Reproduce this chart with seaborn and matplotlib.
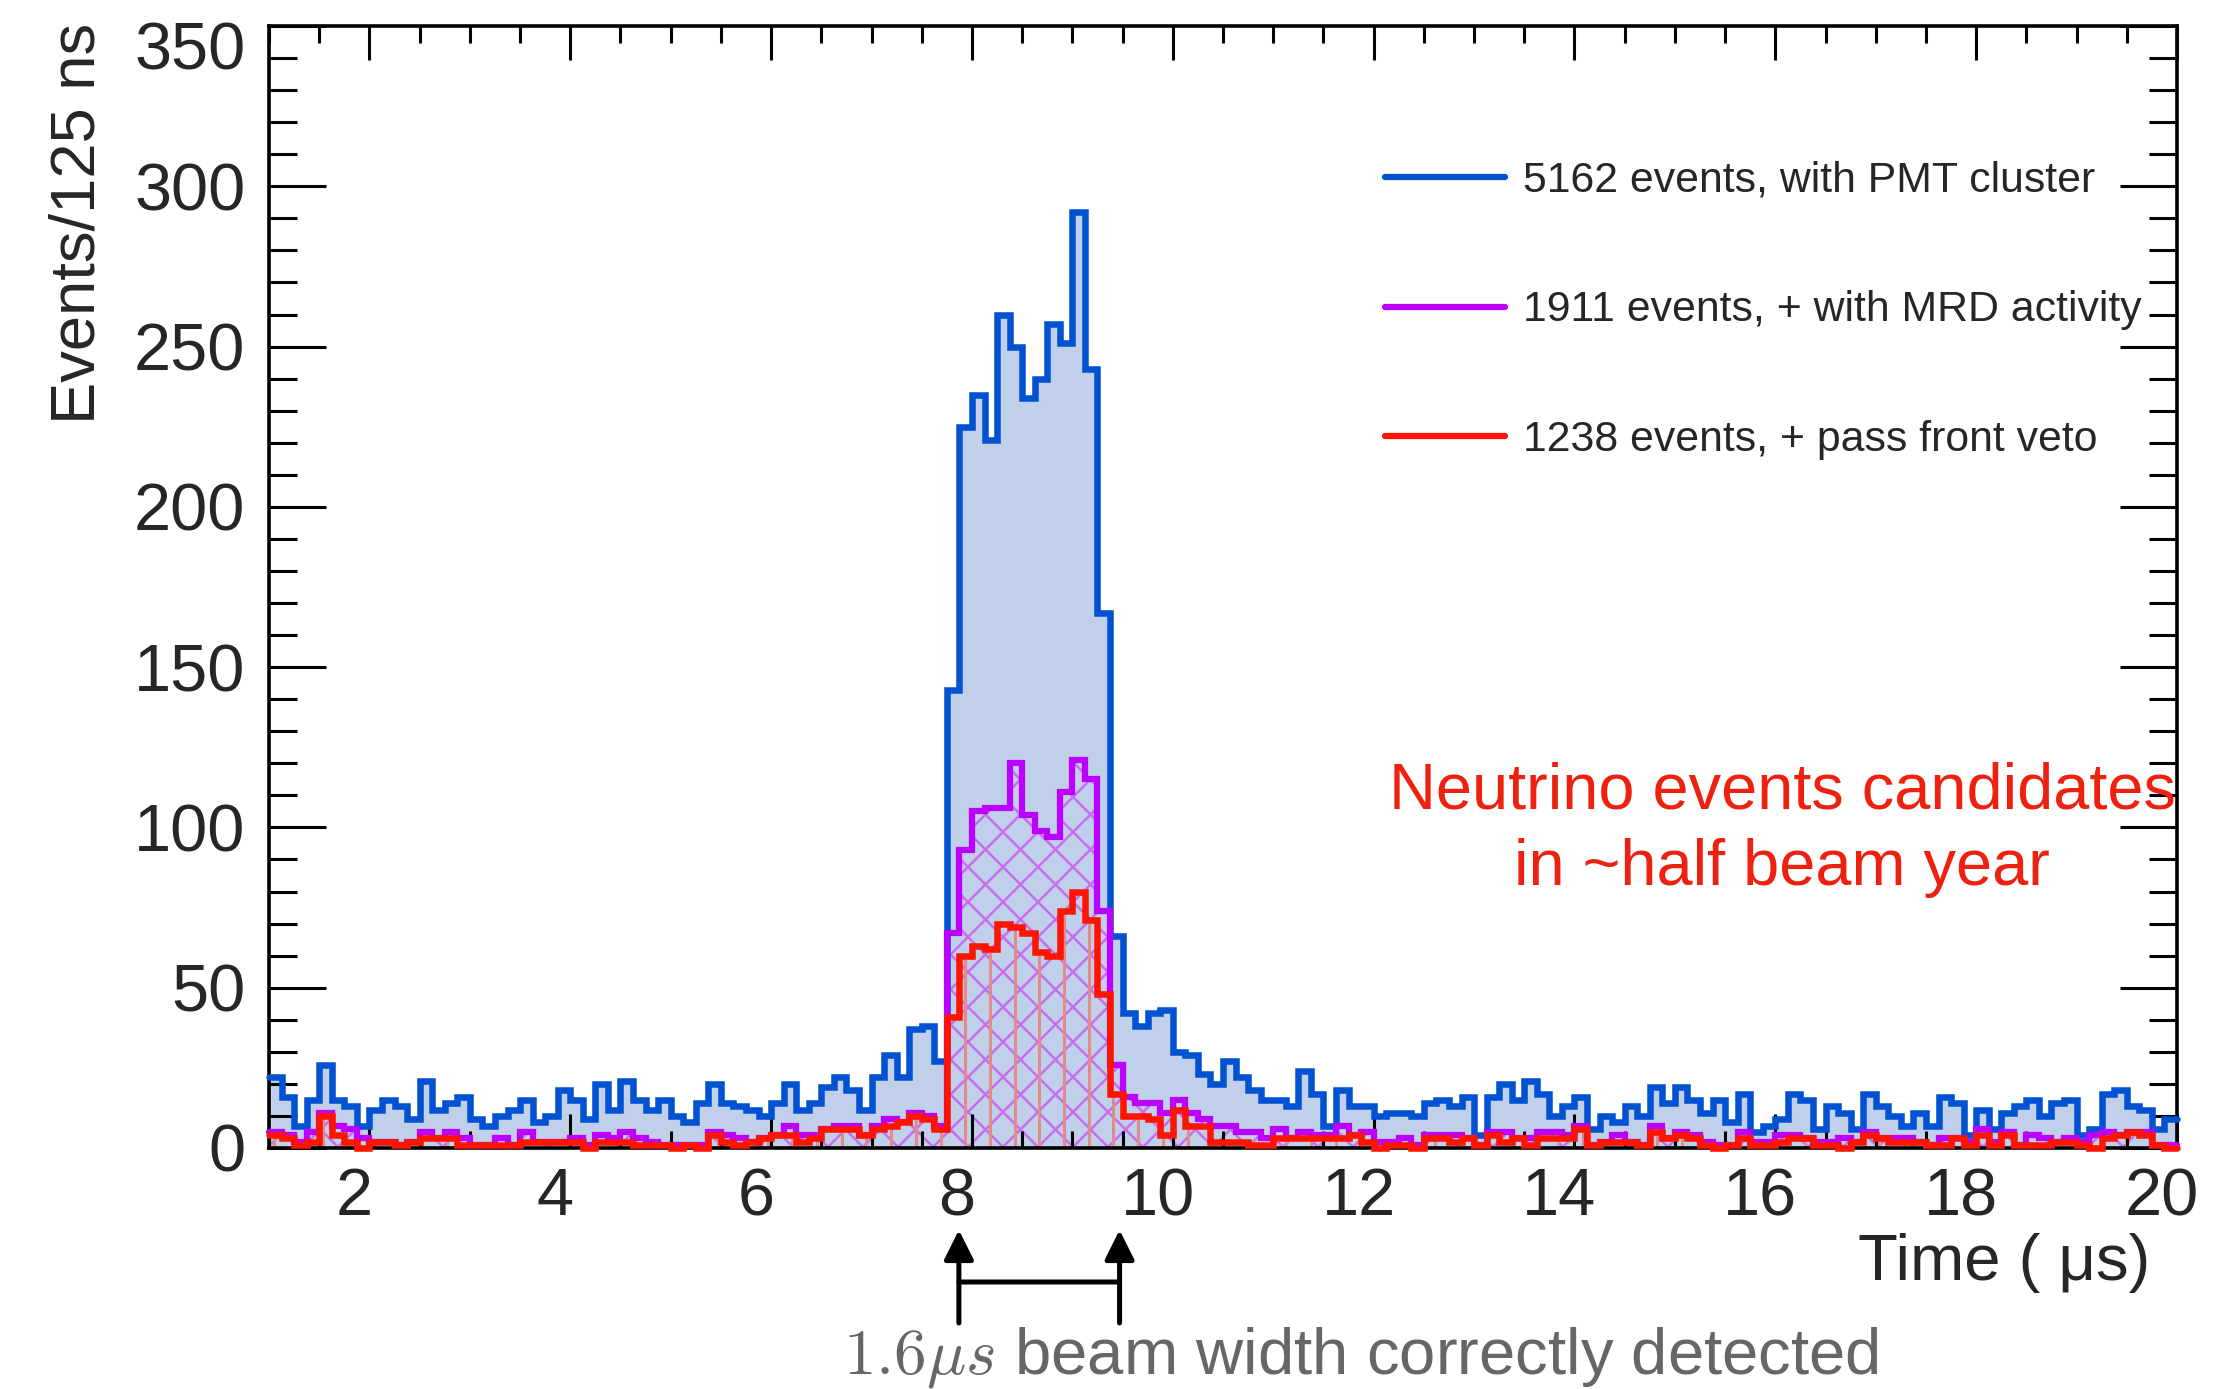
import numpy as np
import matplotlib
matplotlib.use("Agg")
import matplotlib.pyplot as plt
import matplotlib.transforms as mtransforms
from matplotlib.collections import LineCollection
from matplotlib.lines import Line2D
from matplotlib.ticker import MultipleLocator
import seaborn as sns

# Time histogram: 125 ns bins starting at 1 us
T_START = 1.0
BIN_WIDTH = 0.125

pmt_cluster = [
    22, 16, 7, 15, 26, 15, 13, 7, 12, 15, 13, 9, 21, 12, 14, 16, 9, 7, 10, 12,
    15, 8, 10, 18, 15, 9, 20, 12, 21, 15, 12, 15, 10, 8, 14, 20, 14, 13, 12, 10,
    14, 20, 12, 14, 19, 22, 18, 12, 22, 29, 22, 37, 38, 27,
    143, 225, 235, 221, 260, 250, 234, 240, 257, 251, 292, 243, 167,
    66, 42, 38, 42, 43, 30, 29, 23, 20,
    27, 22, 18, 15, 15, 13, 24, 17, 7, 18, 13, 13, 10, 11, 11, 10, 14, 15, 13, 16,
    4, 16, 20, 15, 21, 17, 10, 13, 16, 6, 10, 8, 13, 10, 19, 14, 19, 15, 11, 15,
    8, 17, 5, 7, 9, 17, 15, 6, 13, 11, 6, 17, 13, 10, 7, 11, 7, 16, 14, 4,
    12, 6, 11, 13, 15, 10, 14, 15, 4, 6, 17, 18, 13, 12, 6, 9,
]
mrd_activity = [
    5, 4, 2, 5, 11, 7, 6, 3, 2, 2, 1, 2, 5, 3, 5, 3, 1, 1, 3, 1,
    5, 2, 2, 2, 3, 1, 4, 3, 5, 3, 2, 1, 1, 1, 1, 5, 4, 3, 2, 3,
    4, 7, 4, 4, 6, 7, 7, 4, 7, 9, 8, 11, 10, 7,
    67, 93, 105, 106, 106, 120, 104, 99, 97, 111, 121, 115, 74,
    26, 16, 14, 14, 11, 15, 11, 9, 7,
    7, 5, 5, 3, 6, 3, 5, 4, 4, 7, 4, 5, 2, 2, 3, 1, 4, 4, 4, 3,
    1, 5, 5, 3, 3, 5, 5, 4, 7, 1, 2, 4, 2, 1, 7, 3, 5, 4, 2, 1,
    1, 5, 2, 2, 4, 4, 3, 2, 2, 3, 2, 5, 3, 3, 3, 2, 1, 3, 3, 2,
    6, 2, 5, 1, 4, 3, 2, 3, 2, 4, 5, 4, 5, 5, 1, 1,
]
front_veto = [
    4, 3, 1, 2, 10, 4, 2, 0, 2, 2, 1, 2, 3, 3, 3, 1, 1, 1, 1, 1,
    2, 2, 2, 2, 2, 0, 2, 2, 2, 1, 1, 1, 0, 1, 0, 4, 2, 1, 2, 3,
    4, 4, 2, 3, 6, 6, 6, 4, 6, 7, 8, 10, 9, 6,
    41, 60, 63, 62, 70, 69, 67, 61, 60, 74, 80, 71, 48,
    17, 10, 10, 9, 4, 12, 7, 7, 2,
    2, 2, 1, 1, 3, 3, 3, 3, 3, 3, 4, 2, 0, 1, 1, 0, 3, 3, 2, 3,
    1, 4, 2, 3, 1, 3, 3, 3, 6, 1, 2, 2, 2, 1, 5, 3, 4, 3, 1, 0,
    1, 3, 1, 1, 2, 3, 3, 1, 1, 0, 2, 4, 3, 2, 2, 2, 1, 1, 3, 1,
    4, 1, 4, 1, 1, 1, 2, 2, 1, 0, 3, 4, 5, 4, 1, 0,
]

series_labels = [
    "5162 events, with PMT cluster",
    "1911 events, + with MRD activity",
    "1238 events, + pass front veto",
]
x_tick_values = [2, 4, 6, 8, 10, 12, 14, 16, 18, 20]
y_tick_values = [0, 50, 100, 150, 200, 250, 300, 350]
beam_start = 7.87
beam_width = 1.6

BLUE_LINE = "#0052d2"
BLUE_FILL = "#c1d0ea"
PURPLE = "#bb00ff"
PURPLE_HATCH = "#c86ef0"
RED = "#ff1400"
RED_HATCH = "#e38a8a"

sns.set_style("ticks")
plt.rcParams["font.family"] = ["Liberation Sans", "DejaVu Sans"]
plt.rcParams["mathtext.fontset"] = "cm"

n_bins = len(pmt_cluster)
edges = T_START + BIN_WIDTH * np.arange(n_bins + 1)
centers = edges[:-1] + BIN_WIDTH / 2
bin_list = [float(e) for e in edges]

W, H, DPI = 2234, 1389, 100
fig = plt.figure(figsize=(W / DPI, H / DPI), dpi=DPI)
L, R, T, B = 269, 2177, 26, 1148
ax = fig.add_axes([L / W, 1 - B / H, (R - L) / W, (B - T) / H])


def step_area(values, color):
    n_before = len(ax.collections)
    sns.histplot(x=centers, weights=np.asarray(values, float), bins=bin_list,
                 element="step", fill=True, color=color, alpha=1,
                 edgecolor="none", linewidth=0, ax=ax, legend=False)
    coll = ax.collections[n_before]
    coll.set_zorder(1)
    return coll


def step_outline(values, color, lw):
    n_before = len(ax.lines)
    sns.histplot(x=centers, weights=np.asarray(values, float), bins=bin_list,
                 element="step", fill=False, color=color, linewidth=lw,
                 ax=ax, legend=False)
    line = ax.lines[n_before]
    line.set_clip_on(False)
    line.set_zorder(3)
    line.set_solid_joinstyle("miter")
    return line


# light blue area under the PMT-cluster histogram
step_area(pmt_cluster, BLUE_FILL)

# invisible areas used as clip regions for the hatching
mrd_area = step_area(mrd_activity, "none")
veto_area = step_area(front_veto, "none")

ax.set_xlim(edges[0], edges[-1])
ax.set_ylim(0, 350)
ax.set_axisbelow(False)

px_per_us = ax.bbox.width / (edges[-1] - edges[0])
px_per_count = ax.bbox.height / 350.0
ymax = 350.0

# cross hatching under the MRD histogram (45 degree lines on screen)
slope = px_per_us / px_per_count
rise = ymax / slope
gap = 35.0 / px_per_us
starts = np.arange(edges[0] - rise - gap, edges[-1] + gap, gap)
segs = [[(c, 0), (c + rise, ymax)] for c in starts]
segs += [[(c + rise, 0), (c, ymax)] for c in starts]
cross = LineCollection(segs, colors=PURPLE_HATCH, linewidths=1.8, zorder=1.3)
ax.add_collection(cross, autolim=False)
cross.set_clip_path(mrd_area.get_paths()[0], mrd_area.get_transform())

# vertical hatching under the front-veto histogram
vgap = 24.7 / px_per_us
vx = np.arange(7.933 - 40 * vgap, edges[-1], vgap)
vx = vx[vx > edges[0]]
vsegs = [[(x, 0), (x, ymax)] for x in vx]
vert = LineCollection(vsegs, colors=RED_HATCH, linewidths=2.2, zorder=1.4)
ax.add_collection(vert, autolim=False)
vert.set_clip_path(veto_area.get_paths()[0], veto_area.get_transform())

# histogram outlines
step_outline(pmt_cluster, BLUE_LINE, 4.7)
step_outline(mrd_activity, PURPLE, 4.5)
step_outline(front_veto, RED, 4.7)

# axes frame and ticks
for s in ax.spines.values():
    s.set_linewidth(2.6)
    s.set_color("black")
    s.set_visible(True)

ax.set_xticks(x_tick_values, labels=[str(v) for v in x_tick_values])
ax.xaxis.set_minor_locator(MultipleLocator(0.5))
ax.set_yticks(y_tick_values, labels=[str(v) for v in y_tick_values])
ax.yaxis.set_minor_locator(MultipleLocator(10))
ax.tick_params(axis="both", which="both", direction="in", top=True,
               right=True, width=2.2, color="black")
ax.tick_params(axis="x", which="major", length=24.5, pad=14, labelsize=48)
ax.tick_params(axis="x", which="minor", length=12)
ax.tick_params(axis="y", which="major", length=41, pad=17, labelsize=48)
ax.tick_params(axis="y", which="minor", length=20)

shift_left = mtransforms.ScaledTranslation(-15 / DPI, 0, fig.dpi_scale_trans)
for lab in ax.get_xticklabels():
    lab.set_transform(lab.get_transform() + shift_left)
shift_down = mtransforms.ScaledTranslation(0, -20 / DPI, fig.dpi_scale_trans)
for lab in ax.get_yticklabels():
    if lab.get_text() == "350":
        lab.set_transform(lab.get_transform() + shift_down)

ax.set_xlabel("Time ( μs)", fontsize=47, loc="right", va="baseline")
ax.xaxis.set_label_coords((2150 - L) / (R - L), (B - 1280) / (B - T))
ax.set_ylabel("Events/125 ns", fontsize=45.5, loc="top", va="baseline")
ax.yaxis.set_label_coords((95 - L) / (R - L), 1.003)

# legend
handles = [Line2D([], [], color=c, lw=4.5) for c in (BLUE_LINE, PURPLE, RED)]
ax.legend(handles, series_labels, loc="upper left",
          bbox_to_anchor=(0.585, 0.880), frameon=False, fontsize=30.8,
          handlelength=2.8, handletextpad=0.42, labelspacing=2.1,
          borderpad=0, borderaxespad=0)

# annotation text
fig.text(1782 / W, 1 - 808 / H, "Neutrino events candidates", ha="center",
         va="baseline", fontsize=46.7, color="#ee2010")
fig.text(1782 / W, 1 - 885 / H, "in ~half beam year", ha="center",
         va="baseline", fontsize=46.7, color="#ee2010")

# beam window marker below the axis
beam_end = beam_start + beam_width
for xb in (beam_start, beam_end):
    ax.annotate("", xy=(xb, H - 1230), xytext=(xb, H - 1323),
                xycoords=("data", "figure pixels"),
                textcoords=("data", "figure pixels"),
                arrowprops=dict(arrowstyle="-|>,head_length=0.4,head_width=0.2",
                                lw=3.6, color="black", shrinkA=0, shrinkB=0,
                                mutation_scale=45),
                annotation_clip=False)
ax.annotate("", xy=(beam_start, H - 1282), xytext=(beam_end, H - 1282),
            xycoords=("data", "figure pixels"),
            textcoords=("data", "figure pixels"),
            arrowprops=dict(arrowstyle="-", lw=3.6, color="black",
                            shrinkA=0, shrinkB=0),
            annotation_clip=False)
fig.text(1361 / W, 1 - 1373 / H, r"$1.6\mu s$ beam width correctly detected",
         ha="center", va="baseline", fontsize=47, color="#666666")

fig.savefig("out.png", dpi=DPI)
